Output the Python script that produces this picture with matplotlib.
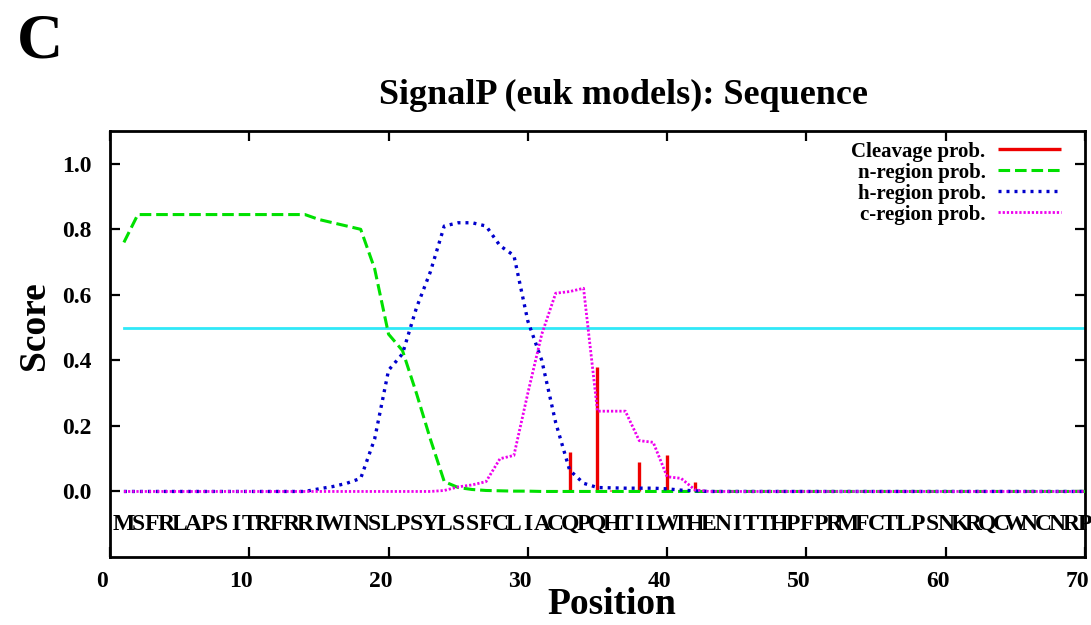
import numpy as np
import matplotlib
matplotlib.use("Agg")
import matplotlib.pyplot as plt
import matplotlib.transforms as mtransforms

plt.rcParams['font.family'] = ['Liberation Serif', 'DejaVu Serif']
plt.rcParams['font.weight'] = 'bold'

# sequence shown under the curves, one letter per position
sequence = list("MSFRLAPSITRFRRIWINSLPSYLSSFCLIACQPQHTILWTHENITTHPFPRMFCTLPSNKRQCWNCNRP")
positions = np.arange(1, len(sequence) + 1)

# n-region probability (positions 1..70)
n_region = [0.76, 0.845, 0.845, 0.845, 0.845, 0.845, 0.845, 0.845, 0.845, 0.845,
            0.845, 0.845, 0.845, 0.845, 0.83, 0.82, 0.81, 0.80, 0.68, 0.48,
            0.43, 0.30, 0.16, 0.03, 0.012, 0.006, 0.003, 0.002, 0.001, 0.001,
            0.0, 0.0, 0.0, 0.0, 0.0, 0.0, 0.0, 0.0, 0.0, 0.0,
            0.0, 0.0, 0.0, 0.0, 0.0, 0.0, 0.0, 0.0, 0.0, 0.0,
            0.0, 0.0, 0.0, 0.0, 0.0, 0.0, 0.0, 0.0, 0.0, 0.0,
            0.0, 0.0, 0.0, 0.0, 0.0, 0.0, 0.0, 0.0, 0.0, 0.0]

# h-region probability
h_region = [0.0, 0.0, 0.0, 0.0, 0.0, 0.0, 0.0, 0.0, 0.0, 0.0,
            0.0, 0.0, 0.0, 0.0, 0.008, 0.015, 0.025, 0.04, 0.16, 0.37,
            0.42, 0.56, 0.67, 0.81, 0.82, 0.82, 0.81, 0.75, 0.72, 0.52,
            0.40, 0.21, 0.065, 0.025, 0.012, 0.011, 0.01, 0.01, 0.01, 0.008,
            0.004, 0.002, 0.0, 0.0, 0.0, 0.0, 0.0, 0.0, 0.0, 0.0,
            0.0, 0.0, 0.0, 0.0, 0.0, 0.0, 0.0, 0.0, 0.0, 0.0,
            0.0, 0.0, 0.0, 0.0, 0.0, 0.0, 0.0, 0.0, 0.0, 0.0]

# c-region probability
c_region = [0.0, 0.0, 0.0, 0.0, 0.0, 0.0, 0.0, 0.0, 0.0, 0.0,
            0.0, 0.0, 0.0, 0.0, 0.0, 0.0, 0.0, 0.0, 0.0, 0.0,
            0.0, 0.0, 0.0, 0.003, 0.014, 0.02, 0.03, 0.10, 0.11, 0.30,
            0.48, 0.605, 0.61, 0.62, 0.245, 0.245, 0.245, 0.155, 0.15, 0.045,
            0.04, 0.005, 0.0, 0.0, 0.0, 0.0, 0.0, 0.0, 0.0, 0.0,
            0.0, 0.0, 0.0, 0.0, 0.0, 0.0, 0.0, 0.0, 0.0, 0.0,
            0.0, 0.0, 0.0, 0.0, 0.0, 0.0, 0.0, 0.0, 0.0, 0.0]

# cleavage probability impulses
cleavage_pos = [32, 33, 35, 36, 38, 40, 42]
cleavage_val = [0.005, 0.12, 0.38, 0.003, 0.09, 0.11, 0.03]

threshold = 0.5

fig = plt.figure(figsize=(10.91, 6.25), dpi=100)
ax = fig.add_axes([0.1008, 0.1088, 0.8937, 0.6816])

ax.vlines(cleavage_pos, 0, cleavage_val, colors='#ee0000', linewidth=2.4,
          label='Cleavage prob.', zorder=3)
ax.plot(positions, n_region, color='#00e000', linewidth=2.2, dashes=(3.8, 1.6),
        label='n-region prob.', zorder=4)
ax.plot(positions, h_region, color='#0000cc', linewidth=2.4, dashes=(0.9, 1.5),
        label='h-region prob.', zorder=5)
ax.plot(positions, c_region, color='#ee00ee', linewidth=2.0, dashes=(0.8, 0.7),
        label='c-region prob.', zorder=6)
ax.plot(positions, [threshold] * len(positions), color='#30e8f8', linewidth=2.0, zorder=2)

for p, ch in zip(positions, sequence):
    ax.text(p, -0.1, ch, ha='center', va='center', fontsize=17, fontweight='bold')

ax.set_xlim(0, 70)
ax.set_ylim(-0.2, 1.1)
ax.set_xticks([0, 10, 20, 30, 40, 50, 60, 70])
ax.set_yticks([0.0, 0.2, 0.4, 0.6, 0.8, 1.0])
ax.set_yticklabels(['0.0', '0.2', '0.4', '0.6', '0.8', '1.0'])
ax.tick_params(direction='in', length=7, width=1.6, top=True, right=True, labelsize=17)
ax.tick_params(axis='x', pad=10)
ax.tick_params(axis='y', pad=13)
for s in ax.spines.values():
    s.set_linewidth(2)

# gnuplot puts the x labels a bit left of the ticks
shift = mtransforms.ScaledTranslation(-8 / 100, 0, fig.dpi_scale_trans)
for lbl in ax.get_xticklabels():
    lbl.set_transform(lbl.get_transform() + shift)

leg = ax.legend(loc='upper right', bbox_to_anchor=(0.975, 0.975), frameon=False,
                markerfirst=False, fontsize=15, handlelength=3.0, handletextpad=0.6,
                labelspacing=0.05, borderaxespad=0, borderpad=0)
for t in leg.get_texts():
    t.set_fontweight('bold')

fig.text(612 / 1091, 1 - 605 / 625, 'Position', ha='center', va='center',
         fontsize=27, fontweight='bold')
fig.text(35 / 1091, 1 - 326 / 625, 'Score', ha='center', va='center', rotation=90,
         fontsize=27, fontweight='bold')
fig.text(623 / 1091, 1 - 95 / 625, 'SignalP (euk models): Sequence', ha='center', va='center',
         fontsize=26, fontweight='bold')
fig.text(40 / 1091, 1 - 43 / 625, 'C', ha='center', va='center', fontsize=46, fontweight='bold')

fig.savefig('out.png', dpi=100)
